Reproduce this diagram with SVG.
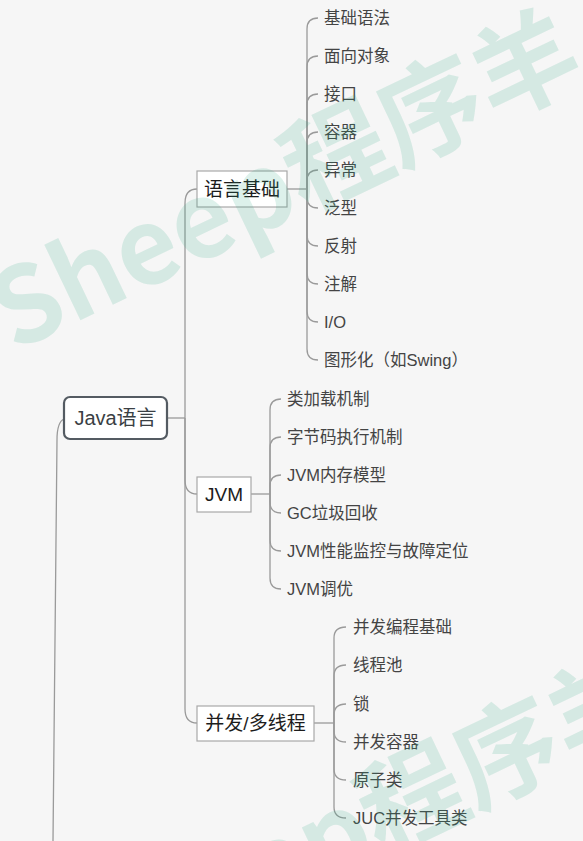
<svg xmlns="http://www.w3.org/2000/svg" width="583" height="841" viewBox="0 0 583 841">
<style>
.bg{fill:#f6f6f6}
.ln{fill:none;stroke:#9a9a9a;stroke-width:1.3}
.box{fill:#ffffff;stroke:#a8a8a8;stroke-width:1.2}
.root{fill:#ffffff;stroke:#545b62;stroke-width:2.2}
.nt{font-family:"Liberation Sans","Noto Sans CJK SC",sans-serif;font-size:19px;fill:#1c1c1c;text-anchor:middle;dominant-baseline:central}
.rt{font-family:"Liberation Sans","Noto Sans CJK SC",sans-serif;font-size:20px;fill:#3a3f44;text-anchor:middle;dominant-baseline:central}
.ct{font-family:"Liberation Sans","Noto Sans CJK SC",sans-serif;font-size:16.5px;fill:#444444;dominant-baseline:central}
.wm{font-family:"Noto Sans CJK SC",sans-serif;font-weight:700;font-size:105px;fill:#2eaa80;fill-opacity:0.16}
</style>
<rect class="bg" x="0" y="0" width="583" height="841"/>
<g id="connectors">
<path class="ln" d="M64,419 Q57,422 57,440 L53,841"/>
<path class="ln" d="M167,418 L185,418"/>
<path class="ln" d="M185,418 L185,203 Q185,189 197,189"/>
<path class="ln" d="M185,418 L185,480 Q185,494 197,494"/>
<path class="ln" d="M185,418 L185,709 Q185,723 197,723"/>
<path class="ln" d="M287,189 L307,189"/>
<path class="ln" d="M307,189 L307,29 Q307,18 318,18"/>
<path class="ln" d="M307,189 L307,67 Q307,56 318,56"/>
<path class="ln" d="M307,189 L307,105 Q307,94 318,94"/>
<path class="ln" d="M307,189 L307,143 Q307,132 318,132"/>
<path class="ln" d="M307,189 L307,181 Q307,170 318,170"/>
<path class="ln" d="M307,189 L307,197 Q307,208 318,208"/>
<path class="ln" d="M307,189 L307,235 Q307,246 318,246"/>
<path class="ln" d="M307,189 L307,273 Q307,284 318,284"/>
<path class="ln" d="M307,189 L307,311 Q307,322 318,322"/>
<path class="ln" d="M307,189 L307,349 Q307,360 318,360"/>
<path class="ln" d="M251,494 L270,494"/>
<path class="ln" d="M270,494 L270,410 Q270,399 281,399"/>
<path class="ln" d="M270,494 L270,448 Q270,437 281,437"/>
<path class="ln" d="M270,494 L270,486 Q270,475 281,475"/>
<path class="ln" d="M270,494 L270,502 Q270,513 281,513"/>
<path class="ln" d="M270,494 L270,540 Q270,551 281,551"/>
<path class="ln" d="M270,494 L270,578 Q270,589 281,589"/>
<path class="ln" d="M314,723 L334,723"/>
<path class="ln" d="M334,723 L334,638 Q334,627 346,627"/>
<path class="ln" d="M334,723 L334,676 Q334,665 346,665"/>
<path class="ln" d="M334,723 L334,715 Q334,704 346,704"/>
<path class="ln" d="M334,723 L334,731 Q334,742 346,742"/>
<path class="ln" d="M334,723 L334,769 Q334,780 346,780"/>
<path class="ln" d="M334,723 L334,807 Q334,818 346,818"/>
</g>
<g id="node-java">
<rect class="root" x="64" y="397" width="103" height="42" rx="6"/>
<text class="rt" x="115.5" y="418">Java语言</text>
</g>
<g id="node-yuyanjichu">
<rect class="box" x="197" y="171" width="90" height="36"/>
<text class="nt" x="242" y="189">语言基础</text>
</g>
<g id="node-jvm">
<rect class="box" x="197" y="477" width="54" height="35"/>
<text class="nt" x="224" y="494.5">JVM</text>
</g>
<g id="node-bingfa">
<rect class="box" x="197" y="706" width="117" height="35"/>
<text class="nt" x="255.5" y="723.5">并发/多线程</text>
</g>
<g id="leaves-yuyanjichu">
<text class="ct" x="324" y="18">基础语法</text>
<text class="ct" x="324" y="56">面向对象</text>
<text class="ct" x="324" y="94">接口</text>
<text class="ct" x="324" y="132">容器</text>
<text class="ct" x="324" y="170">异常</text>
<text class="ct" x="324" y="208">泛型</text>
<text class="ct" x="324" y="246">反射</text>
<text class="ct" x="324" y="284">注解</text>
<text class="ct" x="324" y="322">I/O</text>
<text class="ct" x="324" y="360">图形化（如Swing）</text>
</g>
<g id="leaves-jvm">
<text class="ct" x="287" y="399">类加载机制</text>
<text class="ct" x="287" y="437">字节码执行机制</text>
<text class="ct" x="287" y="475">JVM内存模型</text>
<text class="ct" x="287" y="513">GC垃圾回收</text>
<text class="ct" x="287" y="551">JVM性能监控与故障定位</text>
<text class="ct" x="287" y="589">JVM调优</text>
</g>
<g id="leaves-bingfa">
<text class="ct" x="353" y="627">并发编程基础</text>
<text class="ct" x="353" y="665">线程池</text>
<text class="ct" x="353" y="704">锁</text>
<text class="ct" x="353" y="742">并发容器</text>
<text class="ct" x="353" y="780">原子类</text>
<text class="ct" x="353" y="818">JUC并发工具类</text>
</g>
<g id="watermark">
<text class="wm" x="14" y="352" transform="rotate(-25.6 14 352)">Sheep程序羊</text>
<text class="wm" x="90" y="994" transform="rotate(-25.6 90 994)">Sheep程序羊</text>
</g>
</svg>
